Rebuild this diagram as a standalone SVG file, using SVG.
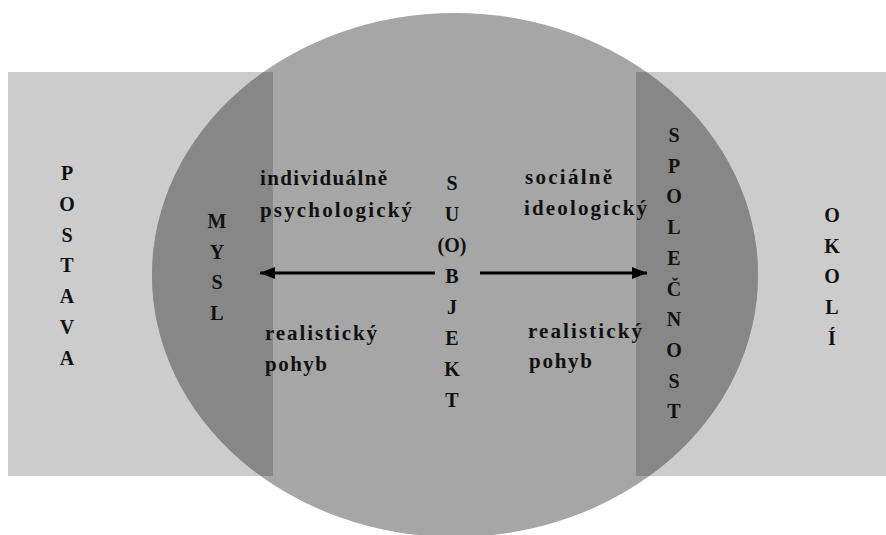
<svg xmlns="http://www.w3.org/2000/svg" width="886" height="535" viewBox="0 0 886 535">
  <style>
    text { font-family: 'Liberation Serif', 'Times New Roman', serif; font-weight: 700; font-size: 20px; fill: #111111; }
    .col { text-anchor: middle; }
    .hl { font-size: 21px; }
    .conn { stroke: #000; stroke-width: 3; fill: none; }
  </style>
  <defs>
    <clipPath id="ellClip">
      <ellipse cx="455" cy="275" rx="303" ry="262"/>
    </clipPath>
    <marker id="arrow" markerUnits="userSpaceOnUse" markerWidth="16" markerHeight="14" refX="15" refY="7" orient="auto">
      <path d="M0,1 L15,7 L0,13 Z" fill="#000"/>
    </marker>
  </defs>

  <rect width="886" height="535" fill="#ffffff"/>

  <g id="okoli-postava-band">
    <rect x="8" y="72" width="878" height="404" fill="#cccccc"/>
  </g>

  <g id="subjekt-ellipse">
    <ellipse cx="455" cy="275" rx="303" ry="262" fill="#a6a6a6"/>
  </g>

  <g id="mysl-strip" clip-path="url(#ellClip)">
    <rect x="140" y="72" width="133" height="404" fill="#878787"/>
  </g>

  <g id="spolecnost-strip" clip-path="url(#ellClip)">
    <rect x="636" y="72" width="130" height="404" fill="#878787"/>
  </g>

  <g id="connectors">
    <line class="conn" x1="435" y1="273" x2="260" y2="273" marker-end="url(#arrow)"/>
    <line class="conn" x1="480" y1="273" x2="647" y2="273" marker-end="url(#arrow)"/>
  </g>

  <g id="postava">
    <text class="col" x="67" y="180">P</text>
    <text class="col" x="67" y="210.8">O</text>
    <text class="col" x="67" y="241.5">S</text>
    <text class="col" x="67" y="272.3">T</text>
    <text class="col" x="67" y="303">A</text>
    <text class="col" x="67" y="333.8">V</text>
    <text class="col" x="67" y="364.5">A</text>
  </g>

  <g id="mysl">
    <text class="col" x="217" y="228">M</text>
    <text class="col" x="217" y="258.7">Y</text>
    <text class="col" x="217" y="289.4">S</text>
    <text class="col" x="217" y="320">L</text>
  </g>

  <g id="subjekt">
    <text class="col" x="452" y="190">S</text>
    <text class="col" x="452" y="221">U</text>
    <text class="col" x="452" y="252">(O)</text>
    <text class="col" x="452" y="283">B</text>
    <text class="col" x="452" y="314">J</text>
    <text class="col" x="452" y="345">E</text>
    <text class="col" x="452" y="376">K</text>
    <text class="col" x="452" y="407">T</text>
  </g>

  <g id="spolecnost">
    <text class="col" x="674" y="142">S</text>
    <text class="col" x="674" y="172.7">P</text>
    <text class="col" x="674" y="203.4">O</text>
    <text class="col" x="674" y="234.1">L</text>
    <text class="col" x="674" y="264.8">E</text>
    <text class="col" x="674" y="295.5">Č</text>
    <text class="col" x="674" y="326.2">N</text>
    <text class="col" x="674" y="356.9">O</text>
    <text class="col" x="674" y="387.6">S</text>
    <text class="col" x="674" y="418.3">T</text>
  </g>

  <g id="okoli">
    <text class="col" x="832" y="221.7">O</text>
    <text class="col" x="832" y="252.5">K</text>
    <text class="col" x="832" y="283.3">O</text>
    <text class="col" x="832" y="314.1">L</text>
    <text class="col" x="832" y="345">Í</text>
  </g>

  <g id="individualne-psychologicky">
    <text class="hl" x="260" y="185" textLength="127">individuálně</text>
    <text class="hl" x="260" y="216.5" textLength="152">psychologický</text>
  </g>

  <g id="socialne-ideologicky">
    <text class="hl" x="525" y="184" textLength="87">sociálně</text>
    <text class="hl" x="524" y="214.5" textLength="123">ideologický</text>
  </g>

  <g id="realisticky-pohyb-left">
    <text class="hl" x="265" y="340" textLength="112">realistický</text>
    <text class="hl" x="265" y="371" textLength="62">pohyb</text>
  </g>

  <g id="realisticky-pohyb-right">
    <text class="hl" x="528" y="338" textLength="114">realistický</text>
    <text class="hl" x="529" y="368" textLength="63">pohyb</text>
  </g>
</svg>
